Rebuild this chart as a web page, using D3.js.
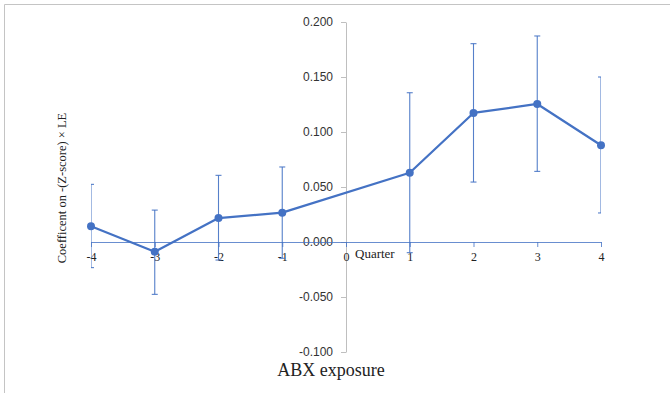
<!DOCTYPE html>
<html>
<head>
<meta charset="utf-8">
<script src="https://cdn.jsdelivr.net/npm/d3@7"></script>
<style>
  body { margin: 0; background: #fff; }
  svg { display: block; }
</style>
</head>
<body>
<svg id="chart" width="670" height="393"></svg>
<script>
var quarters = ["-4", "-3", "-2", "-1", "0", "1", "2", "3", "4"];
var coef  = [0.0143, -0.0088, 0.0218, 0.0267, null, 0.0630, 0.1173, 0.1255, 0.0879];
var upper = [0.0524, 0.0290, 0.0606, 0.0682, null, 0.1357, 0.1803, 0.1873, 0.1500];
var lower = [-0.0233, -0.0476, -0.0164, -0.0148, null, -0.0097, 0.0545, 0.0642, 0.0264];
var yTicks = [-0.1, -0.05, 0, 0.05, 0.1, 0.15, 0.2];

var blue = "#4472c4";
var svg = d3.select("#chart");

//frame lines (top and left only)
svg.append("line").attr("x1", 4.5).attr("y1", 4.5).attr("x2", 670).attr("y2", 4.5)
    .attr("stroke", "#c4c4c4");
svg.append("line").attr("x1", 4.5).attr("y1", 4.5).attr("x2", 4.5).attr("y2", 393)
    .attr("stroke", "#c4c4c4");

var x = d3.scalePoint().domain(quarters).range([91, 601]);
var y = d3.scaleLinear().domain([-0.1, 0.2]).range([352, 22]);

var points = quarters.map((q, i) => ({ q: q, v: coef[i], hi: upper[i], lo: lower[i] }))
    .filter(d => d.v !== null);

svg.append("clipPath").attr("id", "plot-clip")
  .append("rect").attr("x", 91).attr("y", 0).attr("width", 510).attr("height", 393);

//y axis
var yAxis = svg.append("g")
    .attr("transform", "translate(" + x("0") + ",0)")
    .call(d3.axisLeft(y).tickValues(yTicks).tickSize(5).tickPadding(8).tickSizeOuter(0)
        .tickFormat(d => d.toFixed(3)));
yAxis.select(".domain").attr("stroke", "#bfbfbf");
yAxis.selectAll(".tick line").attr("stroke", "#bfbfbf");
yAxis.selectAll(".tick text")
    .attr("fill", "#333")
    .style("font-family", "'Liberation Sans', Arial, sans-serif")
    .style("font-size", "12px");

//x axis
var xAxis = svg.append("g")
    .attr("transform", "translate(0," + y(0) + ")")
    .call(d3.axisBottom(x).tickSize(5).tickPadding(5).tickSizeOuter(0));
xAxis.select(".domain").attr("stroke", blue).attr("stroke-opacity", 0.8);
xAxis.selectAll(".tick line").attr("stroke", blue).attr("stroke-opacity", 0.8);
xAxis.selectAll(".tick text")
    .attr("fill", "#222")
    .style("font-family", "'Liberation Serif', 'Times New Roman', serif")
    .style("font-size", "12px");

svg.append("text")
    .attr("x", 355).attr("y", 258)
    .style("font-family", "'Liberation Serif', 'Times New Roman', serif")
    .style("font-size", "13px")
    .attr("fill", "#222")
    .text("Quarter");

//error bars
var bars = svg.append("g").attr("clip-path", "url(#plot-clip)")
    .attr("stroke", blue).attr("stroke-width", 1.1).attr("stroke-opacity", 0.9);
bars.selectAll(".err").data(points).enter().append("line")
    .attr("x1", d => x(d.q)).attr("x2", d => x(d.q))
    .attr("y1", d => y(d.hi)).attr("y2", d => y(d.lo));
bars.selectAll(".cap-hi").data(points).enter().append("line")
    .attr("x1", d => x(d.q) - 3).attr("x2", d => x(d.q) + 3)
    .attr("y1", d => y(d.hi)).attr("y2", d => y(d.hi));
bars.selectAll(".cap-lo").data(points).enter().append("line")
    .attr("x1", d => x(d.q) - 3).attr("x2", d => x(d.q) + 3)
    .attr("y1", d => y(d.lo)).attr("y2", d => y(d.lo));

//series line, gap at 0 bridged
svg.append("path")
    .datum(points)
    .attr("fill", "none")
    .attr("stroke", blue)
    .attr("stroke-width", 2.25)
    .attr("stroke-linejoin", "round")
    .attr("d", d3.line().x(d => x(d.q)).y(d => y(d.v)));

svg.selectAll(".dot").data(points).enter().append("circle")
    .attr("cx", d => x(d.q)).attr("cy", d => y(d.v))
    .attr("r", 4)
    .attr("fill", blue);

//titles
svg.append("text")
    .attr("transform", "translate(66,188) rotate(-90)")
    .attr("text-anchor", "middle")
    .style("font-family", "'Liberation Serif', 'Times New Roman', serif")
    .style("font-size", "12.5px")
    .attr("fill", "#222")
    .text("Coefficent on -(Z-score) \u00d7 LE");

svg.append("text")
    .attr("x", 331).attr("y", 376)
    .attr("text-anchor", "middle")
    .style("font-family", "'Liberation Serif', 'Times New Roman', serif")
    .style("font-size", "18px")
    .attr("fill", "#222")
    .text("ABX exposure");
</script>
</body>
</html>
